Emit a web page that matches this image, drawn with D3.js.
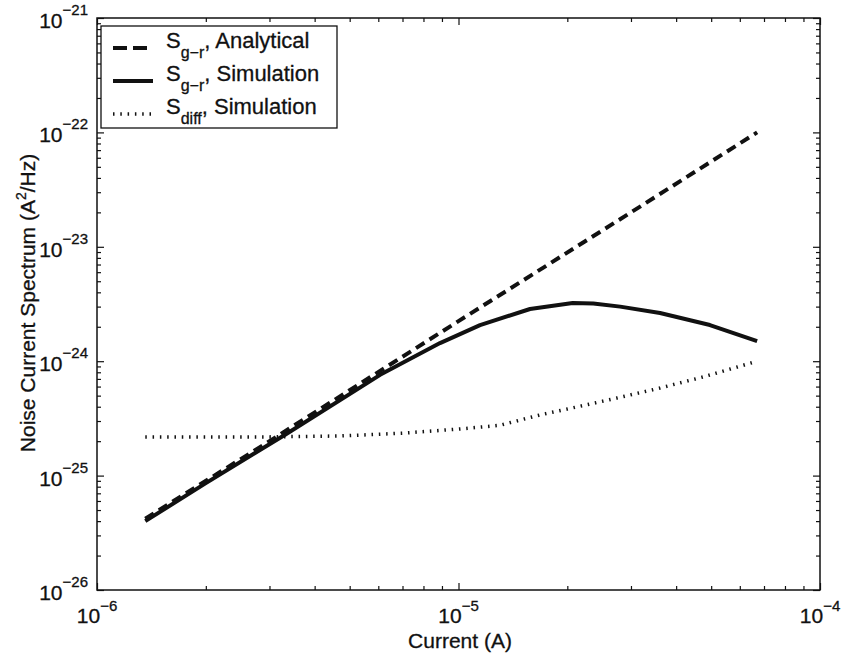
<!DOCTYPE html>
<html>
<head>
<meta charset="utf-8">
<script src="https://cdn.jsdelivr.net/npm/d3@7"></script>
<style>
  body { margin: 0; background: #fff; }
  svg { display: block; }
  text { font-family: "Liberation Sans", Arial, Helvetica, sans-serif; fill: #111; stroke: #111; stroke-width: 0.3; }
</style>
</head>
<body>
<svg width="841" height="659"></svg>
<script>
(function () {

  // S_g-r analytical (straight line on log-log)
  var analyticalCurrent = [1.36e-6, 3e-6, 1e-5, 3e-5, 6.7e-5]
  var analyticalNoise = [4.2e-26, 2.0e-25, 2.24e-24, 2.0e-23, 1.0e-22]

  // S_g-r simulation
  var simCurrent = [1.36e-6, 2.0e-6, 3.33e-6, 6.07e-6, 8.89e-6, 1.147e-5, 1.577e-5, 2.07e-5, 2.36e-5, 2.8e-5, 3.61e-5, 4.96e-5, 6.7e-5]
  var simNoise = [4.0e-26, 8.6e-26, 2.3e-25, 7.6e-25, 1.44e-24, 2.07e-24, 2.86e-24, 3.23e-24, 3.2e-24, 3.0e-24, 2.64e-24, 2.07e-24, 1.5e-24]

  // S_diff simulation
  var diffCurrent = [1.36e-6, 3e-6, 4.7e-6, 7e-6, 1e-5, 1.3e-5, 1.68e-5, 2.2e-5, 2.74e-5, 3.61e-5, 4.75e-5, 6.7e-5]
  var diffNoise = [2.18e-25, 2.18e-25, 2.22e-25, 2.35e-25, 2.55e-25, 2.75e-25, 3.39e-25, 4.08e-25, 4.76e-25, 5.83e-25, 7.28e-25, 1.0e-24]

  // tick exponents
  var xTickExp = [-6, -5, -4]
  var yTickExp = [-26, -25, -24, -23, -22, -21]

  var left = 97, right = 820, top = 18, bottom = 590

  var x = d3.scaleLog().domain([1e-6, 1e-4]).range([left, right])
  var y = d3.scaleLog().domain([1e-26, 1e-21]).range([bottom, top])

  var svg = d3.select('svg')

  // minor ticks: 2..9 in every decade
  function minors(exps) {
    var out = []
    for (var i = 0; i < exps.length - 1; i++) {
      for (var m = 2; m <= 9; m++) out.push(m * Math.pow(10, exps[i]))
    }
    return out
  }
  var xMajor = xTickExp.map(e => Math.pow(10, e))
  var yMajor = yTickExp.map(e => Math.pow(10, e))

  function drawAxis(axis, tx, ty) {
    var g = svg.append('g').attr('transform', 'translate(' + tx + ',' + ty + ')').call(axis)
    g.select('.domain').remove()
    g.selectAll('text').remove()
    g.selectAll('line').attr('stroke', '#111').attr('stroke-width', 1.2)
  }

  // inward ticks on all four sides (box on)
  drawAxis(d3.axisBottom(x).tickValues(xMajor).tickSize(-7), 0, bottom)
  drawAxis(d3.axisBottom(x).tickValues(minors(xTickExp)).tickSize(-4), 0, bottom)
  drawAxis(d3.axisTop(x).tickValues(xMajor).tickSize(-7), 0, top)
  drawAxis(d3.axisTop(x).tickValues(minors(xTickExp)).tickSize(-4), 0, top)
  drawAxis(d3.axisLeft(y).tickValues(yMajor).tickSize(-7), left, 0)
  drawAxis(d3.axisLeft(y).tickValues(minors(yTickExp)).tickSize(-4), left, 0)
  drawAxis(d3.axisRight(y).tickValues(yMajor).tickSize(-7), right, 0)
  drawAxis(d3.axisRight(y).tickValues(minors(yTickExp)).tickSize(-4), right, 0)

  svg.append('rect')
    .attr('x', left).attr('y', top)
    .attr('width', right - left).attr('height', bottom - top)
    .attr('fill', 'none').attr('stroke', '#111').attr('stroke-width', 1.5)

  // tick labels 10^n
  function powLabel(sel, up) {
    sel.append('tspan').attr('font-size', 21).text('10')
    sel.append('tspan').attr('font-size', 15).attr('dy', -up).text(d => '\u2212' + Math.abs(d))
  }

  svg.selectAll('.ylab')
    .data(yTickExp)
    .enter().append('text')
    .attr('class', 'ylab')
    .attr('text-anchor', 'end')
    .attr('x', 88)
    .attr('y', d => y(Math.pow(10, d)) + 10)
    .call(powLabel, 13)

  svg.selectAll('.xlab')
    .data(xTickExp)
    .enter().append('text')
    .attr('class', 'xlab')
    .attr('text-anchor', 'middle')
    .attr('x', d => x(Math.pow(10, d)))
    .attr('y', 623)
    .call(powLabel, 12)

  // axis titles
  svg.append('text')
    .attr('text-anchor', 'middle')
    .attr('x', 460).attr('y', 648)
    .attr('font-size', 21)
    .text('Current (A)')

  var yt = svg.append('text')
    .attr('text-anchor', 'middle')
    .attr('transform', 'translate(35,303) rotate(-90)')
    .attr('font-size', 21)
  yt.append('tspan').text('Noise Current Spectrum (A')
  yt.append('tspan').attr('font-size', 14).attr('dy', -9).text('2')
  yt.append('tspan').attr('dy', 9).text('/Hz)')

  // curves
  var line = d3.line().x(d => x(d[0])).y(d => y(d[1]))
  function pairs(xs, ys) { return xs.map((v, i) => [v, ys[i]]) }

  svg.append('path')
    .datum(pairs(diffCurrent, diffNoise))
    .attr('d', line)
    .attr('fill', 'none').attr('stroke', '#111')
    .attr('stroke-width', 3.5).attr('stroke-dasharray', '1.5,5.8')

  svg.append('path')
    .datum(pairs(simCurrent, simNoise))
    .attr('d', line)
    .attr('fill', 'none').attr('stroke', '#111')
    .attr('stroke-width', 4).attr('stroke-linejoin', 'round')

  svg.append('path')
    .datum(pairs(analyticalCurrent, analyticalNoise))
    .attr('d', line)
    .attr('fill', 'none').attr('stroke', '#111')
    .attr('stroke-width', 4).attr('stroke-dasharray', '10,6')

  // legend
  var legendItems = [
    { sub: 'g\u2212r', rest: ', Analytical', dash: '14,6', width: 4 },
    { sub: 'g\u2212r', rest: ', Simulation', dash: null, width: 4 },
    { sub: 'diff', rest: ', Simulation', dash: '1.5,5.8', width: 3.5 }
  ]

  svg.append('rect')
    .attr('x', 101).attr('y', 26)
    .attr('width', 236).attr('height', 102)
    .attr('fill', '#fff').attr('stroke', '#111').attr('stroke-width', 1.3)

  var rows = svg.selectAll('.leg')
    .data(legendItems)
    .enter().append('g')
    .attr('class', 'leg')
    .attr('transform', (d, i) => 'translate(0,' + (48 + i * 33) + ')')

  rows.append('line')
    .attr('x1', 113).attr('x2', 153)
    .attr('stroke', '#111')
    .attr('stroke-width', d => d.width)
    .attr('stroke-dasharray', d => d.dash)

  var lt = rows.append('text').attr('x', 166).attr('y', 0).attr('font-size', 22)
  lt.append('tspan').text('S')
  lt.append('tspan').attr('font-size', 16).attr('dy', 10).text(d => d.sub)
  lt.append('tspan').attr('dy', -10).text(d => d.rest)

})()
</script>
</body>
</html>
